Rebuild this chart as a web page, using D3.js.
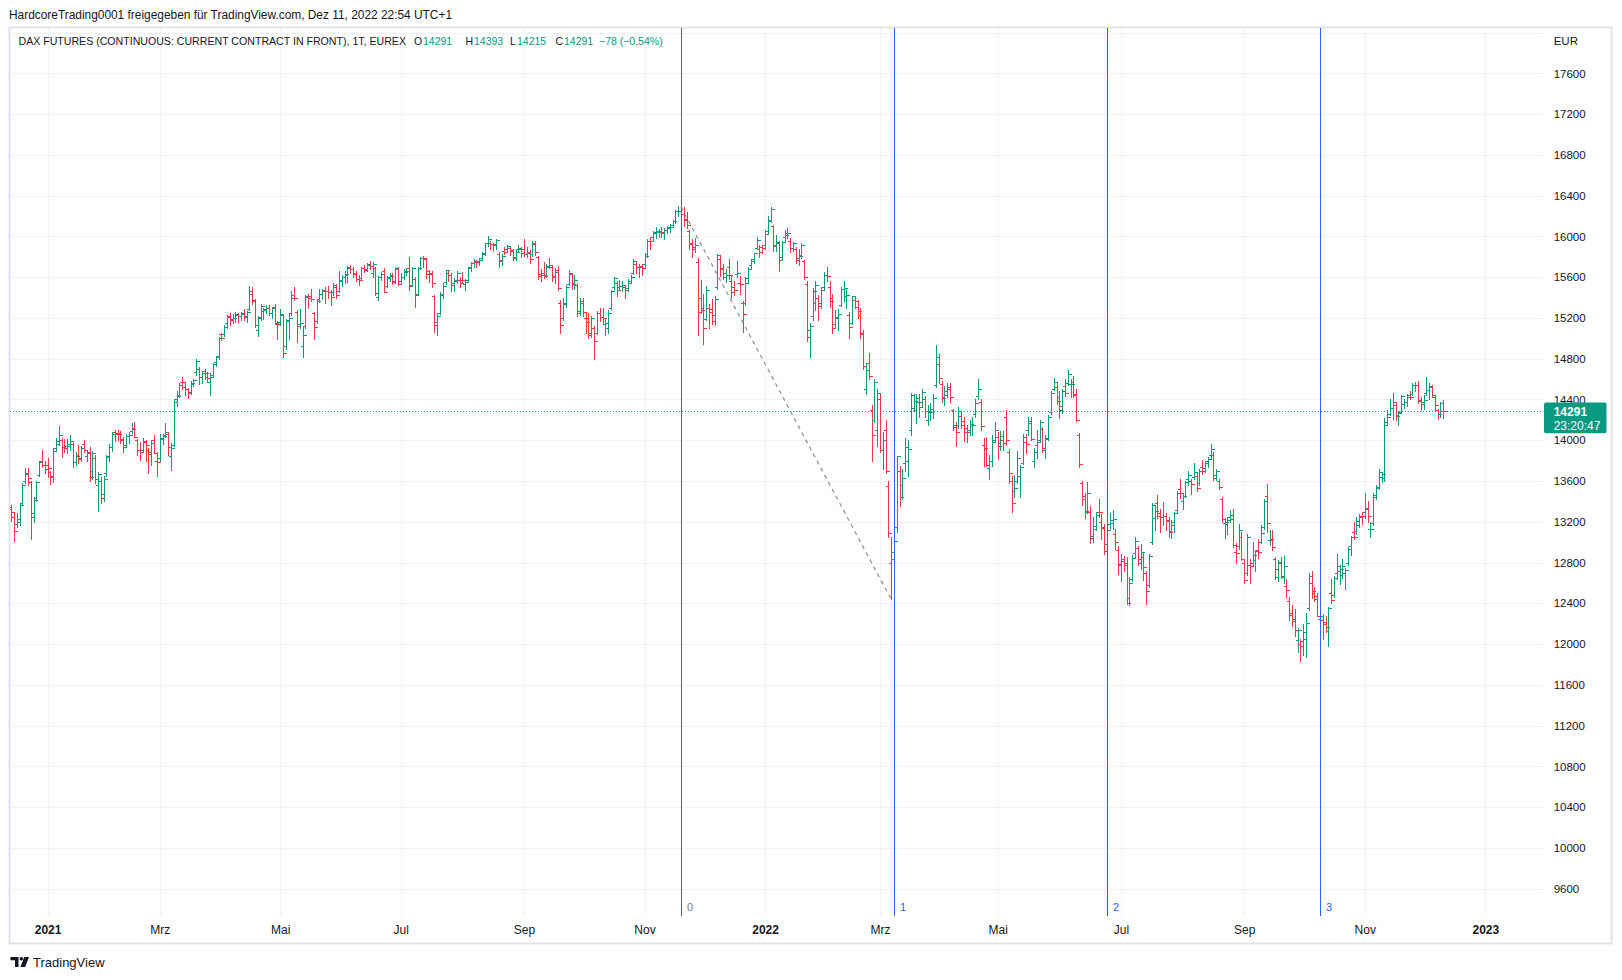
<!DOCTYPE html>
<html><head><meta charset="utf-8">
<script src="https://cdn.jsdelivr.net/npm/d3@7"></script>
<style>body{margin:0;background:#fff;}svg{display:block;font-family:"Liberation Sans",Arial,sans-serif;}</style>
</head><body>
<script>
// ---------------- DATA (daily OHLC, DAX futures continuous, from 2020-12-09 to 2022-12-09) ----------------
const openPrices = [
// Dec 2020 (14)
13290,13330,13250,13180,13200,13380,13600,13680,13590,13290,13430,13660,13800,13760,
// Jan 2021 (20)
13760,13690,13640,13920,13990,14000,13930,13940,13960,13960,13790,13860,13830,13960,13850,13880,13700,13830,13560,13600,
// Feb 2021 (20)
13470,13680,13850,13930,14080,14070,14070,14000,13950,14040,14090,14120,14000,13900,13900,13980,13900,13880,14000,13800,
// Mar 2021 (23)
13830,14020,14050,14060,13850,13950,14400,14440,14570,14520,14500,14470,14550,14670,14700,14620,14680,14620,14570,14640,14770,14830,15040,
// Apr 2021 (20)
15040,15150,15220,15190,15200,15230,15220,15250,15220,15290,15440,15380,15080,15210,15270,15290,15300,15250,15310,15140,
// May 2021 (21)
15160,15230,14920,15180,15250,15430,15260,15140,14920,15120,15410,15420,15250,15170,15390,15440,15470,15460,15450,15450,15500,
// Jun 2021 (22)
15460,15560,15600,15620,15700,15680,15630,15580,15590,15690,15680,15720,15640,15690,15410,15600,15660,15510,15600,15620,15560,15680,
// Jul 2021 (22)
15560,15600,15660,15690,15520,15580,15440,15690,15790,15780,15660,15640,15420,15160,15250,15440,15550,15640,15620,15540,15560,15570,
// Aug 2021 (22)
15570,15530,15570,15700,15740,15750,15760,15790,15840,15940,15940,15930,15920,15830,15760,15860,15880,15890,15870,15800,15880,15880,
// Sep 2021 (22)
15880,15830,15850,15830,15930,15800,15630,15640,15620,15710,15700,15600,15670,15350,15200,15340,15530,15630,15540,15520,15270,15350,
// Oct 2021 (21)
15200,15200,15050,15100,15050,15250,15210,15140,15100,15300,15500,15540,15500,15510,15500,15490,15560,15640,15730,15700,15710,
// Nov 2021 (22)
15730,15830,15960,15990,16040,16040,16050,16030,16060,16090,16110,16150,16250,16250,16220,16170,16050,15930,15900,15750,15400,15300,
// Dec 2021 (21)
15190,15300,15290,15230,15500,15780,15680,15600,15700,15560,15500,15630,15540,15350,15350,15540,15720,15780,15890,15880,15900,
// Jan 2022 (21)
15920,16050,16160,16100,15920,15940,15800,15990,16030,15960,15890,15880,15790,15820,15760,15530,15080,15220,15350,15400,15350,
// Feb 2022 (20)
15500,15620,15500,15400,15140,15200,15330,15480,15420,15230,15150,15380,15310,15230,15050,14500,14760,14300,14200,14100,
// Mar 2022 (23)
14400,13900,14100,13550,12800,12900,13150,13700,13560,13780,13800,14100,14320,14300,14380,14380,14400,14200,14290,14280,14540,14750,14550,
// Apr 2022 (19)
14420,14480,14500,14300,14130,14150,14240,14150,14080,14100,14140,14260,14430,14380,13950,13910,13730,13800,14000,
// May 2022 (22)
14030,13970,14000,14230,13880,13600,13500,13600,13650,13780,13980,14100,14170,13800,13950,14000,14110,13900,14020,14280,14500,14520,
// Jun 2022 (22)
14420,14300,14530,14560,14550,14570,14450,14050,13580,13450,13300,13300,13060,13160,13300,13200,13140,12980,13180,13220,13080,12920,
// Jul 2022 (21)
12780,12830,12800,12450,12640,12890,12940,12800,12850,12700,12580,13000,13240,13380,13260,13250,13260,13220,13110,13200,13320,
// Aug 2022 (23)
13520,13400,13450,13620,13600,13640,13650,13580,13740,13730,13780,13860,13860,13660,13600,13420,13190,13180,13250,13230,12900,12960,13050,
// Sep 2022 (22)
12800,12700,12780,12800,12820,12920,13000,13150,13450,13020,13020,12830,12660,12800,12660,12570,12420,12300,12250,12040,12000,12030,
// Oct 2022 (21)
12050,12350,12600,12500,12440,12250,12240,12200,12130,12500,12480,12700,12720,12680,12700,12800,12960,13100,13110,13170,13260,
// Nov 2022 (22)
13300,13330,13130,13190,13440,13540,13640,13630,14180,14260,14320,14350,14250,14280,14360,14380,14440,14450,14540,14540,14390,14380,
// Dec 2022 (7)
14460,14490,14520,14420,14300,14260,14291
];
const highPrices = [
13370,13365,13290,13290,13380,13585,13730,13730,13600,13440,13600,13800,13900,13800,
13830,13700,13920,14020,14140,14020,14010,14010,14050,13980,13880,13950,13940,14000,13900,13930,13890,13860,13690,13640,
13650,13860,13960,14080,14100,14100,14090,14030,14060,14080,14170,14180,14010,13980,14020,14000,13920,14000,14050,13880,
14060,14060,14170,14080,13970,14400,14480,14560,14620,14570,14510,14580,14600,14800,14720,14680,14700,14670,14660,14760,14830,15010,15050,
15130,15230,15250,15240,15260,15250,15260,15290,15270,15510,15500,15390,15220,15340,15300,15330,15330,15310,15340,15170,
15290,15240,15190,15240,15460,15500,15280,15290,15120,15430,15440,15480,15260,15380,15480,15480,15500,15510,15470,15540,15530,
15660,15620,15660,15710,15720,15700,15660,15620,15700,15720,15740,15760,15750,15700,15610,15650,15690,15610,15640,15640,15700,15700,
15640,15680,15690,15800,15700,15600,15700,15800,15810,15790,15670,15660,15430,15250,15450,15540,15670,15660,15640,15590,15660,15600,
15650,15580,15700,15750,15780,15770,15790,15850,15940,16000,15960,15940,15970,15850,15830,15900,15920,15900,15880,15880,15920,15900,
15970,15900,15870,15960,15960,15810,15680,15750,15730,15790,15710,15690,15710,15380,15400,15520,15670,15640,15620,15540,15400,15400,
15260,15250,15220,15120,15270,15300,15300,15200,15280,15470,15600,15560,15570,15560,15510,15580,15620,15780,15750,15730,15730,
15840,15970,15990,16050,16090,16070,16090,16080,16100,16120,16160,16260,16300,16300,16290,16240,16060,15970,15980,15790,15570,15440,
15510,15340,15390,15420,15830,15820,15730,15680,15780,15620,15560,15760,15610,15370,15600,15700,15780,15840,15990,15920,15920,
16060,16200,16290,16110,16010,15960,15960,16060,16080,15980,15950,15900,15880,15940,15770,15560,15150,15490,15560,15430,15500,
15650,15700,15560,15440,15280,15290,15500,15560,15480,15260,15420,15420,15380,15300,15080,14760,14860,14350,14600,14500,
14450,14080,14200,13600,13050,13300,13850,13750,13720,14020,14000,14460,14450,14450,14450,14500,14430,14350,14370,14450,14930,14850,14580,
14530,14560,14560,14310,14180,14330,14290,14230,14150,14200,14230,14400,14600,14400,14020,14030,13860,14050,14180,
14080,14090,14090,14300,13910,13650,13660,13890,13760,14060,14060,14230,14230,13920,14100,14200,14130,14050,14250,14480,14610,14560,
14480,14500,14600,14690,14600,14630,14500,14070,13600,13480,13590,13350,13250,13300,13420,13280,13180,13140,13290,13320,13130,12960,
12880,12860,12850,12660,12870,13050,12960,12980,12900,12720,12880,13380,13350,13460,13330,13390,13290,13250,13220,13300,13500,
13620,13480,13600,13700,13620,13780,13680,13720,13810,13800,13840,13960,13880,13720,13620,13440,13240,13250,13320,13330,12990,13180,13100,
12830,13080,12830,13000,12920,13030,13170,13420,13570,13120,13120,12850,12820,12850,12860,12640,12460,12380,12340,12160,12050,12200,
12300,12700,12720,12560,12500,12330,12290,12280,12360,12640,12670,12880,12780,12830,12750,12950,13060,13200,13250,13280,13300,
13480,13400,13200,13480,13560,13720,13690,14220,14300,14400,14460,14380,14290,14440,14400,14450,14480,14560,14570,14580,14420,14440,
14620,14560,14540,14440,14310,14380,14393
];
const lowPrices = [
13250,13210,13015,13150,13170,13360,13580,13560,13030,13200,13400,13650,13740,13680,
13640,13570,13590,13900,13950,13840,13880,13870,13900,13740,13760,13780,13800,13880,13800,13600,13620,13580,13310,13380,
13400,13650,13800,13890,13990,14000,13970,13880,13940,13970,14070,14030,13860,13810,13880,13800,13680,13760,13870,13650,
13800,13960,14030,13860,13710,13940,14340,14420,14500,14440,14410,14450,14530,14640,14550,14560,14600,14570,14440,14620,14730,14800,14980,
15020,15100,15130,15150,15160,15160,15180,15180,15160,15280,15340,15110,15020,15180,15190,15250,15230,15200,15140,14990,
15130,14820,14900,14990,15230,15380,14960,15100,14820,15100,15300,15370,14990,15150,15360,15390,15350,15400,15330,15430,15400,
15450,15510,15540,15550,15640,15600,15560,15520,15580,15650,15660,15680,15600,15430,15380,15570,15450,15500,15560,15530,15540,15520,
15530,15580,15620,15470,15510,15310,15430,15680,15700,15590,15550,15500,15060,15030,15240,15400,15530,15560,15460,15460,15540,15500,
15540,15470,15560,15660,15700,15700,15720,15770,15820,15910,15880,15860,15880,15700,15720,15830,15850,15820,15770,15770,15860,15800,
15810,15800,15740,15810,15820,15580,15560,15590,15600,15690,15560,15540,15470,15050,15180,15310,15520,15480,15480,15220,15230,15220,
15050,15000,15010,14800,15040,15170,15150,15030,15050,15290,15480,15420,15470,15460,15400,15460,15540,15630,15640,15600,15620,
15700,15800,15880,15960,15980,15990,15990,15970,16030,16040,16090,16130,16200,16140,16100,16080,15880,15800,15850,15030,15250,14940,
15180,15100,15140,15130,15480,15610,15580,15550,15580,15400,15430,15600,15440,15060,15330,15540,15690,15740,15880,15800,15840,
15880,16030,16140,15860,15860,15660,15770,15960,15980,15850,15860,15740,15720,15790,15580,14970,14820,15180,15280,15180,15300,
15470,15560,15310,15050,15100,15080,15320,15370,15300,15000,15140,15300,15200,15000,14700,14450,14600,13800,14180,13940,
13880,13720,13680,13050,12440,12800,13100,13350,13420,13700,13650,14050,14290,14170,14230,14340,14230,14150,14200,14220,14520,14560,14380,
14350,14420,14380,14100,13940,14120,14120,13990,13980,14050,14050,14230,14400,14100,13750,13750,13620,13750,13990,
13820,13900,13900,13950,13580,13300,13440,13580,13440,13770,13870,14050,14000,13740,13830,13980,13880,13830,14000,14260,14490,14360,
14220,14270,14430,14540,14420,14420,14190,13740,13360,13240,13290,12990,13000,13120,13250,13030,12880,12950,13140,13130,12930,12690,
12620,12720,12390,12380,12620,12850,12780,12740,12630,12390,12560,12980,13120,13240,13100,13170,13120,13050,13040,13100,13300,
13430,13330,13440,13560,13470,13620,13500,13560,13670,13690,13740,13830,13610,13610,13520,13200,13040,13080,13200,12950,12800,12930,12820,
12600,12680,12600,12780,12720,12840,12990,13130,13100,12970,12920,12640,12620,12650,12600,12460,12240,12180,12080,11920,11830,11890,
11870,12330,12450,12420,12280,12170,12050,12120,11980,12400,12460,12640,12590,12650,12540,12780,12870,13030,13080,13150,13180,
13240,13200,13050,13170,13420,13520,13590,13600,14150,14250,14210,14200,14150,14270,14320,14340,14400,14440,14480,14370,14300,14310,
14440,14400,14420,14300,14210,14225,14215
];
const closePrices = [
13340,13296,13114,13223,13362,13565,13667,13630,13246,13418,13587,13790,13761,13719,
13726,13651,13892,13968,14049,13937,13925,13940,13989,13788,13848,13815,13922,13906,13873,13643,13871,13620,13665,13433,
13622,13835,13933,14060,14057,14060,14012,13932,14041,14050,14109,14034,13909,13887,13993,13950,13865,13976,13879,13786,
14012,14039,14080,13930,13920,14380,14437,14541,14569,14502,14461,14557,14596,14775,14621,14657,14662,14610,14621,14748,14817,15008,15008,
15107,15212,15176,15202,15234,15215,15234,15209,15255,15460,15368,15130,15196,15321,15280,15296,15249,15293,15154,15136,
15236,14856,15171,15197,15400,15400,15120,15150,15037,15417,15397,15386,15114,15370,15438,15460,15465,15451,15407,15520,15421,
15568,15603,15633,15693,15677,15640,15581,15571,15693,15673,15729,15711,15727,15448,15603,15636,15456,15589,15607,15554,15691,15531,
15603,15650,15661,15511,15692,15421,15688,15790,15789,15629,15629,15540,15133,15216,15422,15514,15669,15619,15519,15570,15640,15544,
15568,15555,15692,15744,15761,15745,15770,15826,15937,15977,15925,15921,15965,15765,15808,15852,15906,15860,15793,15852,15888,15835,
15824,15840,15781,15932,15843,15610,15623,15610,15701,15722,15616,15652,15490,15132,15348,15507,15644,15532,15574,15249,15365,15260,
15157,15037,15195,14973,15252,15207,15200,15147,15250,15462,15588,15474,15516,15523,15472,15543,15600,15757,15705,15696,15688,
15806,15954,15959,16029,16054,16046,16040,16067,16083,16094,16148,16247,16251,16221,16160,16115,15937,15878,15917,15257,15280,15100,
15472,15263,15170,15386,15813,15687,15639,15623,15621,15453,15476,15637,15531,15239,15593,15676,15756,15836,15964,15852,15885,
16021,16152,16271,15910,15948,15768,15942,16011,16031,15883,15933,15772,15810,15912,15603,15011,15123,15460,15524,15318,15471,
15619,15613,15368,15100,15206,15242,15482,15490,15425,15113,15412,15370,15267,15042,14731,14693,14631,14052,14567,14461,
13905,14000,13698,13094,12835,13008,13848,13442,13628,13929,13918,14441,14388,14413,14326,14473,14284,14274,14306,14418,14821,14606,14415,
14446,14519,14425,14152,14078,14284,14193,14124,14077,14164,14153,14362,14502,14142,13924,13757,13794,13980,14098,
13939,14040,13971,14001,13674,13381,13534,13828,13740,14027,13964,14185,14008,13882,13982,14175,13919,14008,14231,14462,14575,14388,
14340,14485,14460,14653,14556,14445,14198,13762,13427,13304,13483,13038,13126,13265,13292,13145,12912,13118,13187,13231,13003,12784,
12813,12773,12401,12595,12843,13015,12832,12905,12756,12519,12864,13360,13308,13282,13246,13254,13210,13097,13166,13282,13484,
13479,13449,13587,13662,13573,13687,13535,13700,13694,13795,13816,13910,13627,13697,13544,13230,13194,13220,13271,12971,12893,13124,12834,
12630,13050,12761,12871,12916,12904,13088,13402,13189,13028,12956,12741,12803,12671,12767,12531,12284,12228,12140,12139,11976,12114,
12209,12670,12517,12471,12273,12272,12218,12172,12355,12437,12649,12765,12741,12767,12731,12931,13053,13052,13211,13243,13253,
13339,13257,13131,13460,13533,13689,13666,14146,14224,14313,14379,14234,14266,14431,14380,14422,14427,14539,14541,14383,14355,14397,
14490,14529,14448,14343,14261,14369,14291
];
const exchangeHolidays = ["2020-12-24","2020-12-25","2020-12-31","2021-01-01","2021-04-02","2021-04-05","2021-12-24","2021-12-31","2022-04-15","2022-04-18","2022-12-26"];
const monthNames = ["Jan","Feb","Mrz","Apr","Mai","Jun","Jul","Aug","Sep","Okt","Nov","Dez"];
const priceTicks = [9600,10000,10400,10800,11200,11600,12000,12400,12800,13200,13600,14000,14400,14800,15200,15600,16000,16400,16800,17200,17600];
const priceGrid = [9600,10000,10400,10800,11200,11600,12000,12400,12800,13200,13600,14000,14400,14800,15200,15600,16000,16400,16800,17200,17600,18000];
const cycleDates = ["2021-11-18","2022-03-08","2022-06-24","2022-10-10"];
const cycleLabels = ["0","1","2","3"];
const trendDates = ["2021-11-18","2022-03-07"];
const trendPrices = [16290,12440];
const lastPrice = 14291;
const legendValues = {O:"14291",H:"14393",L:"14215",C:"14291",chg:"\u221278 (\u22120.54%)"};

// ---------------- CALENDAR ----------------
const dates = [];
{
  let t = Date.UTC(2020,11,9); const end = Date.UTC(2023,0,2);
  while (t <= end) {
    const d = new Date(t); const wd = d.getUTCDay(); const s = d.toISOString().slice(0,10);
    if (wd !== 0 && wd !== 6 && !exchangeHolidays.includes(s)) dates.push(s);
    t += 86400000;
  }
}
const bars = openPrices.map((o,i)=>({i, date:dates[i], o, h:highPrices[i], l:lowPrices[i], c:closePrices[i]}));

// ---------------- LAYOUT ----------------
const W=1622, H=980;
const plot = {l:10, r:1543, t:28, b:916};
const UP="#089981", DOWN="#f23645", TXT="#131722", GRID="#eff1f5";
const svg = d3.select("body").append("svg").attr("width",W).attr("height",H);
svg.append("rect").attr("width",W).attr("height",H).attr("fill","#fff");

const x = d3.scaleLinear().domain([dates.indexOf("2021-01-04"), dates.indexOf("2023-01-02")]).range([47.6,1485.3]);
const y = d3.scaleLinear().domain([9600,17600]).range([888.6,73.4]);

svg.append("defs").append("clipPath").attr("id","pc").append("rect")
  .attr("x",plot.l).attr("y",plot.t).attr("width",plot.r-plot.l).attr("height",plot.b-plot.t);

// month ticks
const monthTicks=[];
for (let i=1;i<dates.length;i++){
  if (dates[i].slice(5,7)!==dates[i-1].slice(5,7)){ const m=+dates[i].slice(5,7); if (m%2===1) monthTicks.push(i); }
}
const isYear = i => dates[i].slice(5,7)==="01";

// grid
const grid = svg.append("g").attr("shape-rendering","crispEdges");
grid.selectAll(".hg").data(priceGrid).join("line")
  .attr("x1",plot.l).attr("x2",plot.r).attr("y1",d=>Math.round(y(d))+0.5).attr("y2",d=>Math.round(y(d))+0.5)
  .attr("stroke",GRID).attr("stroke-width",1);
grid.selectAll(".vg").data(monthTicks).join("line")
  .attr("x1",d=>Math.round(x(d))+0.5).attr("x2",d=>Math.round(x(d))+0.5).attr("y1",plot.t).attr("y2",plot.b)
  .attr("stroke",GRID).attr("stroke-width",1);

// pane border
svg.append("rect").attr("x",9.5).attr("y",27.5).attr("width",1602).attr("height",916)
  .attr("fill","none").attr("stroke","#e0e3eb").attr("stroke-width",2);

const pg = svg.append("g").attr("clip-path","url(#pc)");
// last price dotted line
pg.append("line").attr("x1",plot.l).attr("x2",plot.r)
  .attr("y1",Math.round(y(lastPrice))+0.5).attr("y2",Math.round(y(lastPrice))+0.5)
  .attr("stroke",UP).attr("stroke-width",1).attr("stroke-dasharray","1 2");

// OHLC bars
pg.append("g").attr("shape-rendering","crispEdges").selectAll("path").data(bars).join("path")
  .attr("d",d=>{
    const X=Math.round(x(d.i))+0.5;
    const yo=Math.round(y(d.o))+0.5, yc=Math.round(y(d.c))+0.5;
    return `M${X},${Math.round(y(d.h))}V${Math.round(y(d.l))+1}M${X-3},${yo}H${X}M${X},${yc}H${X+3}`;
  })
  .attr("fill","none").attr("stroke",d=>d.c>=d.o?UP:DOWN).attr("stroke-width",1.2);

// dashed trend line
const ti = trendDates.map(s=>dates.indexOf(s));
pg.append("line").attr("x1",x(ti[0])).attr("y1",y(trendPrices[0])).attr("x2",x(ti[1])).attr("y2",y(trendPrices[1]))
  .attr("stroke","#8a8d96").attr("stroke-width",1.2).attr("stroke-dasharray","4 4");

// cycle lines
const cyc = cycleDates.map((s,k)=>({i:dates.indexOf(s), label:cycleLabels[k], color:k===0?"#5d606b":"#2962ff", lc:k===0?"#787b86":"#2962ff"}));
const cg = pg.append("g");
cg.selectAll("line").data(cyc).join("line")
  .attr("x1",d=>Math.round(x(d.i))+0.5).attr("x2",d=>Math.round(x(d.i))+0.5).attr("y1",plot.t).attr("y2",plot.b)
  .attr("stroke",d=>d.color).attr("stroke-width",1).attr("shape-rendering","crispEdges");
cg.selectAll("text").data(cyc).join("text")
  .attr("x",d=>Math.round(x(d.i))+6).attr("y",911).attr("font-size",11).attr("fill",d=>d.lc).text(d=>d.label);

// price axis
const ya = svg.append("g").attr("transform",`translate(${plot.r},0)`)
  .call(d3.axisRight(y).tickValues(priceTicks).tickSize(0).tickPadding(10.7).tickFormat(d3.format("d")));
ya.select(".domain").remove();
ya.selectAll("text").attr("font-size",11.5).attr("fill",TXT).attr("font-family",'"Liberation Sans",Arial,sans-serif');
svg.append("text").attr("x",1553.7).attr("y",44.5).attr("font-size",11.5).attr("fill",TXT).text("EUR");

// last price label
const ly = y(lastPrice);
svg.append("rect").attr("x",1544).attr("y",ly-8).attr("width",62.5).attr("height",30.6).attr("rx",2).attr("fill",UP);
svg.append("text").attr("x",1553.7).attr("y",ly+5.6).attr("font-size",12).attr("font-weight","bold").attr("fill","#fff").text(String(lastPrice));
svg.append("text").attr("x",1553.7).attr("y",ly+19.6).attr("font-size",12).attr("fill","#fff").text("23:20:47");

// time axis
const xa = svg.append("g").attr("transform",`translate(0,${plot.b})`)
  .call(d3.axisBottom(x).tickValues(monthTicks).tickSize(0).tickPadding(9.5)
    .tickFormat(i=>isYear(i)?dates[i].slice(0,4):monthNames[+dates[i].slice(5,7)-1]));
xa.select(".domain").remove();
xa.selectAll("text").attr("font-size",12).attr("fill",TXT).attr("font-family",'"Liberation Sans",Arial,sans-serif')
  .attr("font-weight",i=>isYear(i)?"bold":"normal");

// header
svg.append("text").attr("x",9).attr("y",18.5).attr("font-size",12).attr("fill",TXT)
  .attr("textLength",443).attr("lengthAdjust","spacingAndGlyphs")
  .text("HardcoreTrading0001 freigegeben f\u00fcr TradingView.com, Dez 11, 2022 22:54 UTC+1");

// legend
const lg = svg.append("g").attr("font-size",10.5);
lg.append("text").attr("x",18.5).attr("y",45).attr("fill",TXT).attr("font-size",10.6)
  .text("DAX FUTURES (CONTINUOUS: CURRENT CONTRACT IN FRONT), 1T, EUREX");
const legendParts = [
  {t:"O",x:414,c:TXT},{t:legendValues.O,x:423,c:UP},
  {t:"H",x:465.5,c:TXT},{t:legendValues.H,x:474,c:UP},
  {t:"L",x:510,c:TXT},{t:legendValues.L,x:517,c:UP},
  {t:"C",x:555.5,c:TXT},{t:legendValues.C,x:564,c:UP},
  {t:legendValues.chg,x:599,c:UP}
];
lg.selectAll(".lp").data(legendParts).join("text").attr("x",d=>d.x).attr("y",45).attr("fill",d=>d.c).text(d=>d.t);

// TradingView logo
const logo = svg.append("g").attr("fill",TXT);
logo.append("path").attr("d","M10.5,957H18.5V967H15V960.3H10.5Z");
logo.append("circle").attr("cx",21.3).attr("cy",958.8).attr("r",1.8);
logo.append("path").attr("d","M24.2,957H29L25.2,967H20.4Z");
svg.append("text").attr("x",33).attr("y",966.5).attr("font-size",13).attr("fill",TXT).text("TradingView");
</script>
</body></html>
